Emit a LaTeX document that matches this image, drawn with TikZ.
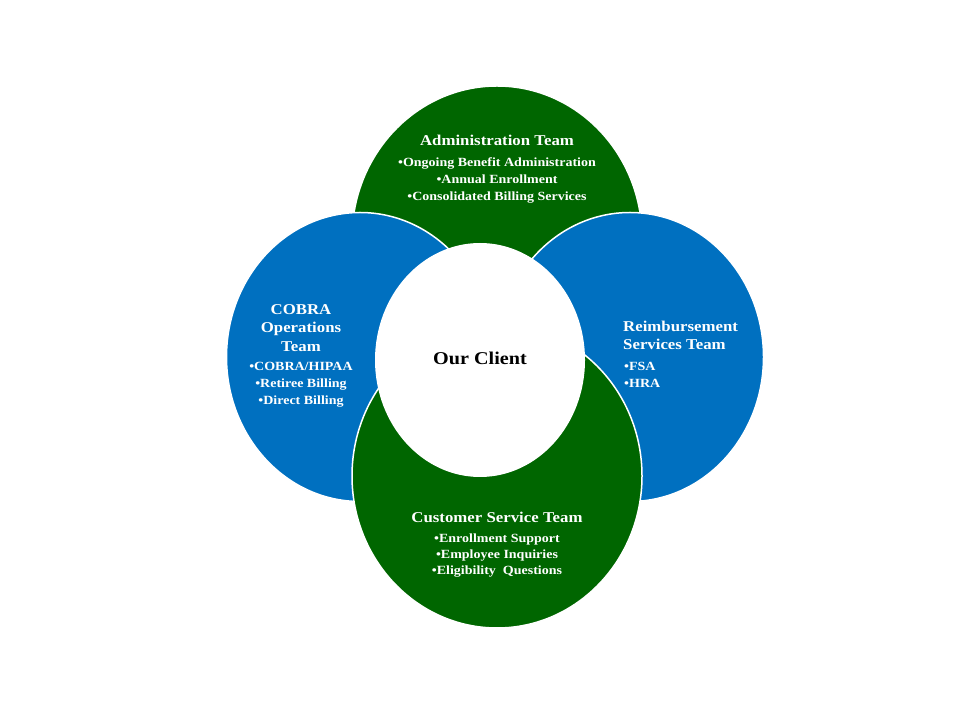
\documentclass[tikz,border=0pt]{standalone}
\usepackage{fontspec}
\setmainfont[FakeStretch=1.12]{Liberation Serif}
\definecolor{teamGreen}{RGB}{0,102,0}
\definecolor{teamBlue}{RGB}{0,112,192}
\tikzset{
  green team/.style={fill=teamGreen,draw=white,line width=1.5pt},
  blue team/.style={fill=teamBlue,draw=white,line width=1.5pt},
  team title/.style={text=white,font=\bfseries\fontsize{15}{18.5}\selectfont,align=center,inner sep=0pt},
  team items/.style={text=white,font=\bfseries\fontsize{12.5}{17}\selectfont,align=center,inner sep=0pt},
}
\begin{document}
\begin{tikzpicture}[x=1pt,y=1pt]
\path[use as bounding box,fill=white] (0,0) rectangle (960,720);

% team circles, back to front
\path[green team] (497,482) ellipse [x radius=145,y radius=152];
\path[blue team] (360,363) ellipse [x radius=133.5,y radius=144.5];
\path[blue team] (630,363) ellipse [x radius=133.5,y radius=144.5];
\path[green team] (497,244) ellipse [x radius=145,y radius=152];
\path[fill=white] (480,360) ellipse [x radius=105,y radius=117];

% client
\node[text=black,font=\bfseries\fontsize{18}{20}\selectfont,inner sep=0pt] (client) at (480,362) {Our Client};

% administration
\node[team title] (adminTitle) at (497,580) {Administration Team};
\node[team items] (adminItems) at (497,540) {\textbullet Ongoing Benefit Administration\\
	\textbullet Annual Enrollment\\
	\textbullet Consolidated Billing Services};

% cobra
\node[team title] (cobraTitle) at (301,392) {COBRA\\ Operations\\ Team};
\node[team items] (cobraItems) at (301,335) {\textbullet COBRA/HIPAA\\
	\textbullet Retiree Billing\\
	\textbullet Direct Billing};

% reimbursement
\node[team title,align=left,anchor=west] (reimbTitle) at (623,384.5) {Reimbursement\\ Services Team};
\node[team items,align=left,anchor=west] (reimbItems) at (624,345.5) {\textbullet FSA\\
	\textbullet HRA};

% customer service
\node[team title] (serviceTitle) at (497,203) {Customer Service Team};
\node[team items,font=\bfseries\fontsize{12.5}{16}\selectfont] (serviceItems) at (497,164) {\textbullet Enrollment Support\\
	\textbullet Employee Inquiries\\
	\textbullet Eligibility\ \ Questions};
\end{tikzpicture}
\end{document}
